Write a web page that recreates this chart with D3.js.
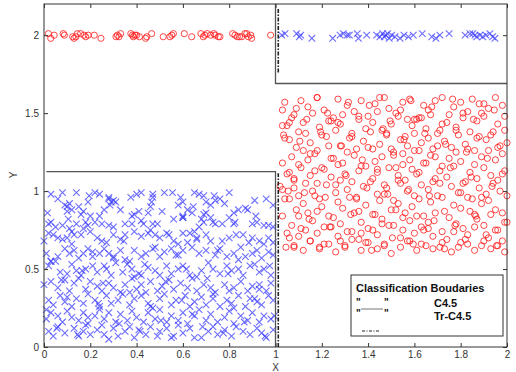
<!DOCTYPE html>
<html><head><meta charset="utf-8">
<script src="https://cdn.jsdelivr.net/npm/d3@7"></script>
<style>body{margin:0;background:#fff}svg{display:block}text{font-family:"Liberation Sans",Arial,sans-serif}</style>
</head><body><svg id="c" width="516" height="372"></svg>
<script>
// ---- data ----
const xTicks = [0,0.2,0.4,0.6,0.8,1,1.2,1.4,1.6,1.8,2];
const xTickLabels = ["0","0.2","0.4","0.6","0.8","1","1.2","1.4","1.6","1.8","2"];
const yTicks = [0,0.5,1,1.5,2];
const yTickLabels = ["0","0.5","1","1.5","2"];

// class "x" (blue crosses), lower-left block
const blueBlockX = [0.03,0.08,0.14,0.22,0.24,0.28,0.4,0.42,0.47,0.52,0.65,0.67,0.69,0.8,0.28,0.3,0.31,0.47,0.59,
0.09,0.1,0.11,0.12,0.1,0.19,0.26,0.29,0.38,0.39,0.41,0.45,0.46,0.58,0.6,0.62,0.6,0.7,0.72,0.74,0.76,0.82,0.84,0.88,0.91,0.99,0.17,0.16,0.64,0.7,0.72,
0.02,0.03,0.05,0.08,0.14,0.18,0.19,0.17,0.22,0.25,0.28,0.3,0.35,0.38,0.43,0.47,0.49,0.56,0.6,0.68,0.69,0.74,0.77,0.8,0.82,0.9,0.92,0.95,0.97,0.99,0.67,0.73,0.2,0.11,
0.0,0.02,0.04,0.06,0.08,0.1,0.12,0.13,0.16,0.2,0.23,0.25,0.27,0.3,0.33,0.35,0.39,0.42,0.45,0.46,0.48,0.5,0.53,0.54,0.6,0.63,0.65,0.66,0.7,0.72,0.77,0.8,0.83,0.86,0.9,0.93,0.95,0.97,0.99,0.56,0.58,0.62,
0.01,0.03,0.06,0.09,0.11,0.13,0.15,0.17,0.19,0.21,0.24,0.26,0.28,0.3,0.33,0.35,0.37,0.39,0.42,0.44,0.47,0.5,0.52,0.55,0.58,0.6,0.64,0.67,0.7,0.74,0.76,0.79,0.82,0.85,0.87,0.9,0.92,0.94,0.97,0.99,
0.02,0.05,0.07,0.1,0.12,0.14,0.16,0.18,0.21,0.23,0.26,0.27,0.29,0.31,0.34,0.36,0.38,0.41,0.42,0.45,0.48,0.5,0.53,0.55,0.58,0.6,0.63,0.66,0.68,0.71,0.73,0.76,0.79,0.81,0.84,0.86,0.89,0.91,0.93,0.95,0.98,
0.0,0.03,0.06,0.09,0.11,0.13,0.15,0.18,0.2,0.23,0.25,0.28,0.3,0.33,0.35,0.38,0.4,0.42,0.44,0.46,0.49,0.51,0.54,0.56,0.59,0.62,0.64,0.66,0.69,0.72,0.74,0.78,0.8,0.82,0.85,0.88,0.9,0.93,0.96,0.98,
0.02,0.04,0.07,0.09,0.12,0.14,0.17,0.19,0.22,0.24,0.27,0.29,0.32,0.34,0.37,0.39,0.42,0.45,0.47,0.5,0.52,0.55,0.57,0.61,0.63,0.65,0.68,0.7,0.73,0.76,0.79,0.81,0.84,0.87,0.89,0.92,0.94,0.97,0.99,
0.01,0.03,0.06,0.08,0.1,0.12,0.15,0.17,0.19,0.22,0.24,0.26,0.28,0.31,0.33,0.36,0.38,0.4,0.43,0.45,0.48,0.5,0.53,0.55,0.58,0.6,0.62,0.65,0.67,0.7,0.72,0.75,0.78,0.8,0.82,0.85,0.88,0.9,0.93,0.95,0.98,
0.02,0.04,0.06,0.09,0.13,0.15,0.17,0.18,0.2,0.23,0.25,0.26,0.3,0.32,0.35,0.37,0.39,0.41,0.44,0.46,0.49,0.5,0.53,0.56,0.58,0.6,0.63,0.65,0.68,0.71,0.73,0.75,0.78,0.81,0.83,0.86,0.89,0.92,0.94,0.96,0.99,
0.015,0.06,0.105,0.15,0.195,0.24,0.285,0.33,0.375,0.42,0.465,0.51,0.555,0.6,0.645,0.69,0.735,0.78,0.825,0.87,0.915,0.96,
0.03,0.075,0.12,0.165,0.21,0.255,0.3,0.345,0.39,0.435,0.48,0.525,0.57,0.615,0.66,0.705,0.75,0.795,0.84,0.885,0.93,0.975,
0.01,0.055,0.1,0.145,0.19,0.235,0.28,0.325,0.37,0.415,0.46,0.505,0.55,0.595,0.64,0.685,0.73,0.775,0.82,0.865,0.91,0.955,0.995];
const blueBlockY = [0.98,0.99,0.99,0.99,0.98,0.96,0.98,0.99,0.98,0.99,0.99,0.98,0.97,0.99,0.95,0.94,0.93,0.96,0.96,
0.91,0.9,0.92,0.88,0.87,0.93,0.88,0.93,0.84,0.85,0.87,0.86,0.9,0.91,0.93,0.88,0.84,0.93,0.91,0.94,0.95,0.86,0.88,0.88,0.94,0.91,0.87,0.85,0.86,0.86,0.83,
0.79,0.8,0.77,0.78,0.79,0.8,0.78,0.76,0.8,0.79,0.78,0.77,0.79,0.79,0.79,0.79,0.79,0.82,0.83,0.82,0.8,0.79,0.79,0.83,0.79,0.79,0.8,0.78,0.78,0.77,0.77,0.8,0.84,0.76,
0.68,0.73,0.72,0.7,0.69,0.7,0.74,0.72,0.72,0.74,0.7,0.68,0.67,0.72,0.69,0.72,0.74,0.71,0.73,0.75,0.72,0.7,0.73,0.72,0.73,0.73,0.74,0.7,0.72,0.68,0.68,0.7,0.72,0.72,0.7,0.68,0.66,0.7,0.67,0.68,0.66,0.67,
0.6,0.55,0.58,0.63,0.6,0.62,0.57,0.6,0.63,0.58,0.6,0.63,0.6,0.58,0.62,0.56,0.55,0.62,0.58,0.6,0.63,0.58,0.61,0.63,0.59,0.62,0.64,0.6,0.62,0.59,0.63,0.58,0.6,0.64,0.58,0.6,0.62,0.57,0.61,0.59,
0.52,0.55,0.48,0.47,0.53,0.49,0.46,0.5,0.52,0.48,0.52,0.5,0.46,0.54,0.48,0.53,0.5,0.47,0.46,0.51,0.49,0.46,0.52,0.47,0.5,0.52,0.46,0.45,0.49,0.54,0.5,0.47,0.52,0.49,0.5,0.46,0.52,0.53,0.48,0.5,0.46,
0.4,0.42,0.38,0.43,0.36,0.41,0.44,0.37,0.42,0.39,0.36,0.41,0.38,0.35,0.4,0.44,0.37,0.4,0.35,0.42,0.36,0.39,0.43,0.37,0.41,0.38,0.44,0.36,0.4,0.38,0.35,0.4,0.36,0.38,0.42,0.36,0.39,0.37,0.36,0.41,
0.3,0.27,0.33,0.29,0.26,0.31,0.28,0.34,0.3,0.26,0.33,0.28,0.3,0.34,0.27,0.31,0.33,0.28,0.25,0.31,0.34,0.27,0.3,0.33,0.26,0.29,0.32,0.27,0.31,0.26,0.3,0.28,0.33,0.26,0.31,0.29,0.27,0.33,0.3,
0.18,0.22,0.2,0.16,0.23,0.19,0.17,0.22,0.15,0.2,0.24,0.18,0.22,0.16,0.21,0.17,0.23,0.19,0.16,0.22,0.18,0.24,0.16,0.2,0.17,0.22,0.15,0.2,0.24,0.17,0.21,0.16,0.19,0.23,0.15,0.2,0.17,0.22,0.16,0.2,0.18,
0.1,0.07,0.13,0.09,0.12,0.07,0.1,0.14,0.08,0.11,0.14,0.08,0.12,0.07,0.1,0.13,0.06,0.11,0.08,0.13,0.07,0.1,0.12,0.07,0.14,0.09,0.12,0.06,0.06,0.1,0.13,0.08,0.11,0.07,0.13,0.1,0.08,0.12,0.09,0.06,0.11,
0.86,0.95,0.82,0.9,0.97,0.84,0.91,0.88,0.96,0.81,0.93,0.87,0.99,0.83,0.9,0.85,0.97,0.92,0.8,0.89,0.84,0.95,
0.55,0.43,0.66,0.49,0.61,0.41,0.57,0.68,0.45,0.53,0.64,0.42,0.59,0.5,0.69,0.44,0.62,0.47,0.56,0.67,0.4,0.52,
0.24,0.12,0.32,0.08,0.19,0.28,0.05,0.15,0.35,0.1,0.26,0.17,0.06,0.3,0.21,0.13,0.34,0.09,0.25,0.16,0.31,0.07,0.2];

// class "o" (red circles), upper-right block
const redBlockX = [1.04,1.08,1.11,1.14,1.18,1.21,1.25,1.27,1.31,1.34,1.37,1.4,1.43,1.47,1.49,1.52,1.55,1.58,1.6,1.64,1.66,1.69,1.72,1.75,1.77,1.8,1.83,1.85,1.88,1.9,1.92,1.95,1.98,1.23,1.62,1.03,
1.05,1.07,1.1,1.12,1.16,1.19,1.2,1.24,1.28,1.29,1.33,1.36,1.39,1.42,1.44,1.46,1.5,1.53,1.56,1.59,1.61,1.65,1.67,1.7,1.74,1.78,1.81,1.84,1.87,1.89,1.93,1.96,1.99,1.57,
1.03,1.06,1.09,1.13,1.15,1.18,1.22,1.26,1.28,1.32,1.35,1.38,1.41,1.45,1.48,1.51,1.54,1.57,1.6,1.63,1.66,1.68,1.71,1.73,1.76,1.79,1.82,1.86,1.88,1.91,1.94,1.97,2.0,1.48,
1.04,1.07,1.1,1.12,1.14,1.17,1.2,1.23,1.25,1.29,1.31,1.34,1.37,1.4,1.43,1.46,1.5,1.52,1.55,1.58,1.62,1.64,1.67,1.7,1.72,1.75,1.78,1.8,1.83,1.86,1.89,1.92,1.95,1.98,
1.03,1.06,1.08,1.11,1.15,1.18,1.21,1.24,1.27,1.3,1.33,1.36,1.39,1.42,1.44,1.47,1.49,1.53,1.56,1.59,1.61,1.65,1.68,1.71,1.74,1.77,1.81,1.84,1.87,1.9,1.93,1.96,1.99,1.55,
1.05,1.08,1.1,1.13,1.16,1.19,1.22,1.26,1.28,1.31,1.35,1.38,1.41,1.44,1.48,1.51,1.54,1.57,1.6,1.63,1.66,1.69,1.72,1.76,1.79,1.82,1.85,1.88,1.91,1.94,1.97,2.0,1.02,
1.03,1.06,1.09,1.12,1.14,1.17,1.2,1.23,1.27,1.29,1.32,1.36,1.39,1.42,1.45,1.47,1.5,1.53,1.56,1.59,1.62,1.64,1.67,1.7,1.73,1.77,1.8,1.83,1.86,1.89,1.92,1.95,1.98,
1.04,1.07,1.1,1.13,1.16,1.18,1.21,1.25,1.28,1.31,1.34,1.37,1.4,1.43,1.46,1.49,1.52,1.55,1.58,1.61,1.63,1.66,1.69,1.72,1.75,1.78,1.81,1.84,1.87,1.9,1.93,1.96,1.99,
1.03,1.06,1.08,1.11,1.15,1.18,1.21,1.24,1.27,1.3,1.33,1.36,1.39,1.42,1.44,1.47,1.51,1.54,1.57,1.6,1.63,1.66,1.68,1.71,1.74,1.77,1.8,1.83,1.86,1.89,1.92,1.95,1.98,
1.05,1.08,1.12,1.15,1.19,1.23,1.26,1.3,1.33,1.37,1.4,1.44,1.47,1.5,1.54,1.58,1.61,1.65,1.68,1.72,1.76,1.79,1.83,1.86,1.9,1.93,1.96,1.99,
1.045,1.09,1.135,1.18,1.225,1.27,1.315,1.36,1.405,1.45,1.495,1.54,1.585,1.63,1.675,1.72,1.765,1.81,1.855,1.9,1.945,1.99,
1.06,1.105,1.15,1.195,1.24,1.285,1.33,1.375,1.42,1.465,1.51,1.555,1.6,1.645,1.69,1.735,1.78,1.825,1.87,1.915,1.96,
1.035,1.08,1.125,1.17,1.215,1.26,1.305,1.35,1.395,1.44,1.485,1.53,1.575,1.62,1.665,1.71,1.755,1.8,1.845,1.89,1.935,1.98,
1.055,1.1,1.145,1.19,1.235,1.28,1.325,1.37,1.415,1.46,1.505,1.55,1.595,1.64,1.685,1.73,1.775,1.82,1.865,1.91,1.955,2.0];
const redBlockY = [1.57,1.49,1.58,1.54,1.6,1.52,1.47,1.59,1.55,1.51,1.58,1.48,1.56,1.6,1.53,1.5,1.57,1.59,1.46,1.55,1.52,1.58,1.6,1.49,1.54,1.57,1.51,1.59,1.56,1.48,1.53,1.6,1.55,1.45,1.47,1.52,
1.42,1.47,1.38,1.44,1.5,1.41,1.36,1.45,1.43,1.49,1.37,1.46,1.4,1.44,1.51,1.39,1.43,1.48,1.35,1.42,1.46,1.4,1.49,1.37,1.44,1.41,1.47,1.38,1.45,1.5,1.36,1.43,1.39,1.46,1.42,
1.33,1.28,1.37,1.31,1.26,1.35,1.39,1.29,1.34,1.27,1.32,1.38,1.3,1.36,1.25,1.33,1.29,1.37,1.31,1.34,1.27,1.39,1.32,1.28,1.36,1.3,1.26,1.35,1.33,1.38,1.29,1.31,1.37,1.34,
1.22,1.17,1.26,1.2,1.24,1.15,1.29,1.21,1.18,1.25,1.23,1.16,1.28,1.19,1.22,1.27,1.15,1.24,1.2,1.26,1.18,1.23,1.29,1.16,1.21,1.25,1.19,1.27,1.17,1.22,1.26,1.2,1.24,1.18,
1.12,1.07,1.15,1.1,1.05,1.14,1.09,1.17,1.11,1.06,1.13,1.16,1.08,1.12,1.04,1.15,1.1,1.07,1.14,1.11,1.18,1.06,1.13,1.09,1.16,1.05,1.12,1.08,1.15,1.1,1.07,1.13,1.17,1.11,
1.02,0.97,1.05,1.0,0.95,1.04,0.99,1.07,1.01,0.96,1.03,1.06,0.98,1.02,0.94,1.05,1.0,0.97,1.04,1.01,1.08,0.96,1.03,0.99,1.06,0.95,1.02,0.98,1.05,1.0,0.97,1.03,1.01,
0.95,0.88,0.92,0.86,0.97,0.9,0.84,0.93,0.89,0.96,0.87,0.91,0.85,0.94,0.98,0.88,0.92,0.86,0.9,0.95,0.84,0.93,0.97,0.87,0.91,0.89,0.96,0.85,0.92,0.94,0.88,0.86,0.95,
0.78,0.84,0.75,0.81,0.87,0.77,0.83,0.79,0.74,0.86,0.8,0.76,0.85,0.82,0.78,0.88,0.75,0.81,0.84,0.77,0.8,0.86,0.74,0.83,0.79,0.76,0.87,0.82,0.78,0.85,0.75,0.8,0.84,
0.7,0.65,0.76,0.68,0.73,0.66,0.77,0.71,0.64,0.74,0.69,0.67,0.75,0.72,0.65,0.78,0.7,0.68,0.73,0.66,0.76,0.71,0.64,0.69,0.74,0.67,0.72,0.77,0.65,0.7,0.75,0.68,0.73,
0.64,0.62,0.68,0.63,0.66,0.61,0.65,0.69,0.62,0.67,0.63,0.66,0.6,0.64,0.68,0.62,0.65,0.63,0.67,0.61,0.64,0.66,0.62,0.68,0.63,0.65,0.61,0.64,
1.53,1.46,1.6,1.5,1.44,1.57,1.48,1.55,1.6,1.45,1.52,1.58,1.47,1.54,1.43,1.59,1.5,1.46,1.56,1.52,1.48,1.44,
1.32,1.24,1.38,1.21,1.29,1.35,1.2,1.27,1.4,1.23,1.33,1.26,1.37,1.22,1.3,1.39,1.25,1.34,1.21,1.28,1.36,
1.08,0.99,1.13,0.96,1.04,1.1,0.95,1.02,1.14,0.98,1.07,1.01,1.12,0.97,1.05,1.15,0.99,1.09,0.96,1.03,1.11,1.0,
0.71,0.82,0.64,0.77,0.68,0.85,0.73,0.62,0.79,0.7,0.83,0.66,0.75,0.81,0.63,0.78,0.69,0.84,0.72,0.65,0.8,0.74];

// top strip: red circles left of x=1, blue crosses right of x=1
const redStripX = [0.019,0.029,0.044,0.083,0.088,0.124,0.13,0.138,0.144,0.158,0.173,0.18,0.191,0.217,0.246,0.311,0.317,0.324,0.331,0.375,0.382,0.386,0.393,0.4,0.412,0.439,0.444,0.465,0.515,0.544,0.552,0.559,0.606,0.638,0.678,0.688,0.695,0.705,0.72,0.734,0.739,0.753,0.76,0.815,0.825,0.835,0.844,0.854,0.868,0.876,0.883,0.893,0.897,0.979];
const redStripY = [2.01,1.98,2.0,2.01,2.0,1.99,1.98,1.99,2.01,2.01,2.0,1.99,2.0,2.0,1.98,1.99,2.0,1.99,2.01,2.01,2.0,1.99,2.0,2.0,1.99,1.98,1.99,2.01,1.99,1.99,2.0,2.01,2.01,1.99,2.01,1.99,2.0,2.01,2.0,2.01,2.0,1.99,1.99,2.01,2.0,1.99,1.99,1.99,2.01,2.01,1.99,2.0,1.98,2.0];
const blueStripX = [1.027,1.041,1.091,1.103,1.109,1.157,1.247,1.279,1.293,1.31,1.319,1.353,1.358,1.394,1.437,1.451,1.463,1.47,1.477,1.484,1.491,1.502,1.516,1.538,1.555,1.574,1.595,1.634,1.675,1.693,1.71,1.75,1.819,1.84,1.852,1.862,1.869,1.883,1.895,1.909,1.926,1.938,1.948];
const blueStripY = [2.0,2.01,2.01,1.99,2.0,1.98,1.98,2.0,2.01,2.0,2.0,2.01,1.98,2.0,2.0,1.99,2.01,1.99,2.0,2.01,1.98,2.0,1.99,1.98,2.0,1.99,2.0,2.01,1.99,1.98,2.0,2.01,2.0,2.01,2.01,2.0,1.99,2.0,1.99,2.0,2.01,1.99,1.98];

// classification boundaries
const c45Lower = [[0.01,1.125],[1.0,1.125],[1.0,0]];
const c45Upper = [[1.0,2.2],[1.0,1.69],[2.0,1.69]];
const trC45Lower = [[1.012,0],[1.012,1.115]];
const trC45Upper = [[1.012,1.76],[1.012,2.17]];

const legendTitle = "Classification Boudaries";
const legendNames = ["C4.5","Tr-C4.5"];
const xLabel = "X", yLabel = "Y";

// ---- drawing ----
const svg = d3.select("#c");
const L=44,R=507,T=4,B=347;
const x = d3.scaleLinear().domain([0,2]).range([L,R]);
const y = d3.scaleLinear().domain([0,2.2]).range([B,T]);

const pts = (xs,ys)=>xs.map((v,i)=>[v,ys[i]]).filter(d=>d[1]!==undefined);

function crosses(data){
  const s=3.3;
  svg.append("g").selectAll("path").data(data).join("path")
    .attr("d",d=>{const px=x(d[0]),py=y(d[1]);return `M${px-s},${py-s}L${px+s},${py+s}M${px-s},${py+s}L${px+s},${py-s}`;})
    .attr("fill","none").attr("stroke","#3d3dff").attr("stroke-opacity",0.75).attr("stroke-width",1.1);
}
function circles(data){
  svg.append("g").selectAll("circle").data(data).join("circle")
    .attr("cx",d=>x(d[0])).attr("cy",d=>y(d[1])).attr("r",3.1)
    .attr("fill","none").attr("stroke","#ff1a1a").attr("stroke-opacity",0.8).attr("stroke-width",1);
}
crosses(pts(blueBlockX,blueBlockY));
crosses(pts(blueStripX,blueStripY));
circles(pts(redBlockX,redBlockY));
circles(pts(redStripX,redStripY));

const line = d3.line().x(d=>x(d[0])).y(d=>y(d[1]));
[c45Lower,c45Upper].forEach(p=>svg.append("path").attr("d",line(p)).attr("fill","none").attr("stroke","#555").attr("stroke-width",1.3));
[trC45Lower,trC45Upper].forEach(p=>svg.append("path").attr("d",line(p)).attr("fill","none").attr("stroke","#222").attr("stroke-width",1.6).attr("stroke-dasharray","4,1.5,1.5,1.5"));

// axes box
svg.append("rect").attr("x",L).attr("y",T).attr("width",R-L).attr("height",B-T).attr("fill","none").attr("stroke","#333").attr("stroke-width",1);

function styleAxis(g){g.select(".domain").remove();g.selectAll(".tick line").attr("stroke","#333");g.selectAll("text").attr("fill","#333").attr("font-size","10px");}
svg.append("g").attr("transform",`translate(0,${B})`).call(d3.axisBottom(x).tickValues(xTicks).tickSize(-4).tickPadding(4).tickFormat((d,i)=>xTickLabels[i])).call(styleAxis);
svg.append("g").attr("transform",`translate(0,${T})`).call(d3.axisTop(x).tickValues(xTicks).tickSize(-4).tickFormat("")).call(styleAxis);
svg.append("g").attr("transform",`translate(${L},0)`).call(d3.axisLeft(y).tickValues(yTicks).tickSize(-4).tickPadding(5).tickFormat((d,i)=>yTickLabels[i])).call(styleAxis);
svg.append("g").attr("transform",`translate(${R},0)`).call(d3.axisRight(y).tickValues(yTicks).tickSize(-4).tickFormat("")).call(styleAxis);

svg.append("text").attr("x",(L+R)/2).attr("y",371).attr("text-anchor","middle").attr("font-size","10px").attr("fill","#333").text(xLabel);
svg.append("text").attr("transform","translate(17,175) rotate(-90)").attr("text-anchor","middle").attr("font-size","10px").attr("fill","#333").text(yLabel);

// legend
const lg = svg.append("g");
lg.append("rect").attr("x",351).attr("y",275).attr("width",152).attr("height",61).attr("fill","#fff").attr("stroke","#333").attr("stroke-width",1);
lg.append("text").attr("x",356).attr("y",292).attr("font-size","11px").attr("font-weight","bold").attr("fill","#111").text(legendTitle);
lg.append("text").attr("x",356).attr("y",306).attr("font-size","10px").attr("font-weight","bold").attr("fill","#111").text('"');
lg.append("text").attr("x",384).attr("y",306).attr("font-size","10px").attr("font-weight","bold").attr("fill","#111").text('"');
lg.append("line").attr("x1",361).attr("x2",383).attr("y1",309).attr("y2",309).attr("stroke","#777").attr("stroke-width",1);
lg.append("text").attr("x",356).attr("y",317).attr("font-size","10px").attr("font-weight","bold").attr("fill","#111").text('"');
lg.append("text").attr("x",384).attr("y",317).attr("font-size","10px").attr("font-weight","bold").attr("fill","#111").text('"');
lg.append("line").attr("x1",362).attr("x2",379).attr("y1",331).attr("y2",331).attr("stroke","#222").attr("stroke-width",1.2).attr("stroke-dasharray","3,1.5,1,1.5");
lg.append("text").attr("x",434).attr("y",307).attr("font-size","11px").attr("font-weight","bold").attr("fill","#111").text(legendNames[0]);
lg.append("text").attr("x",434).attr("y",320).attr("font-size","11px").attr("font-weight","bold").attr("fill","#111").text(legendNames[1]);
</script></body></html>
